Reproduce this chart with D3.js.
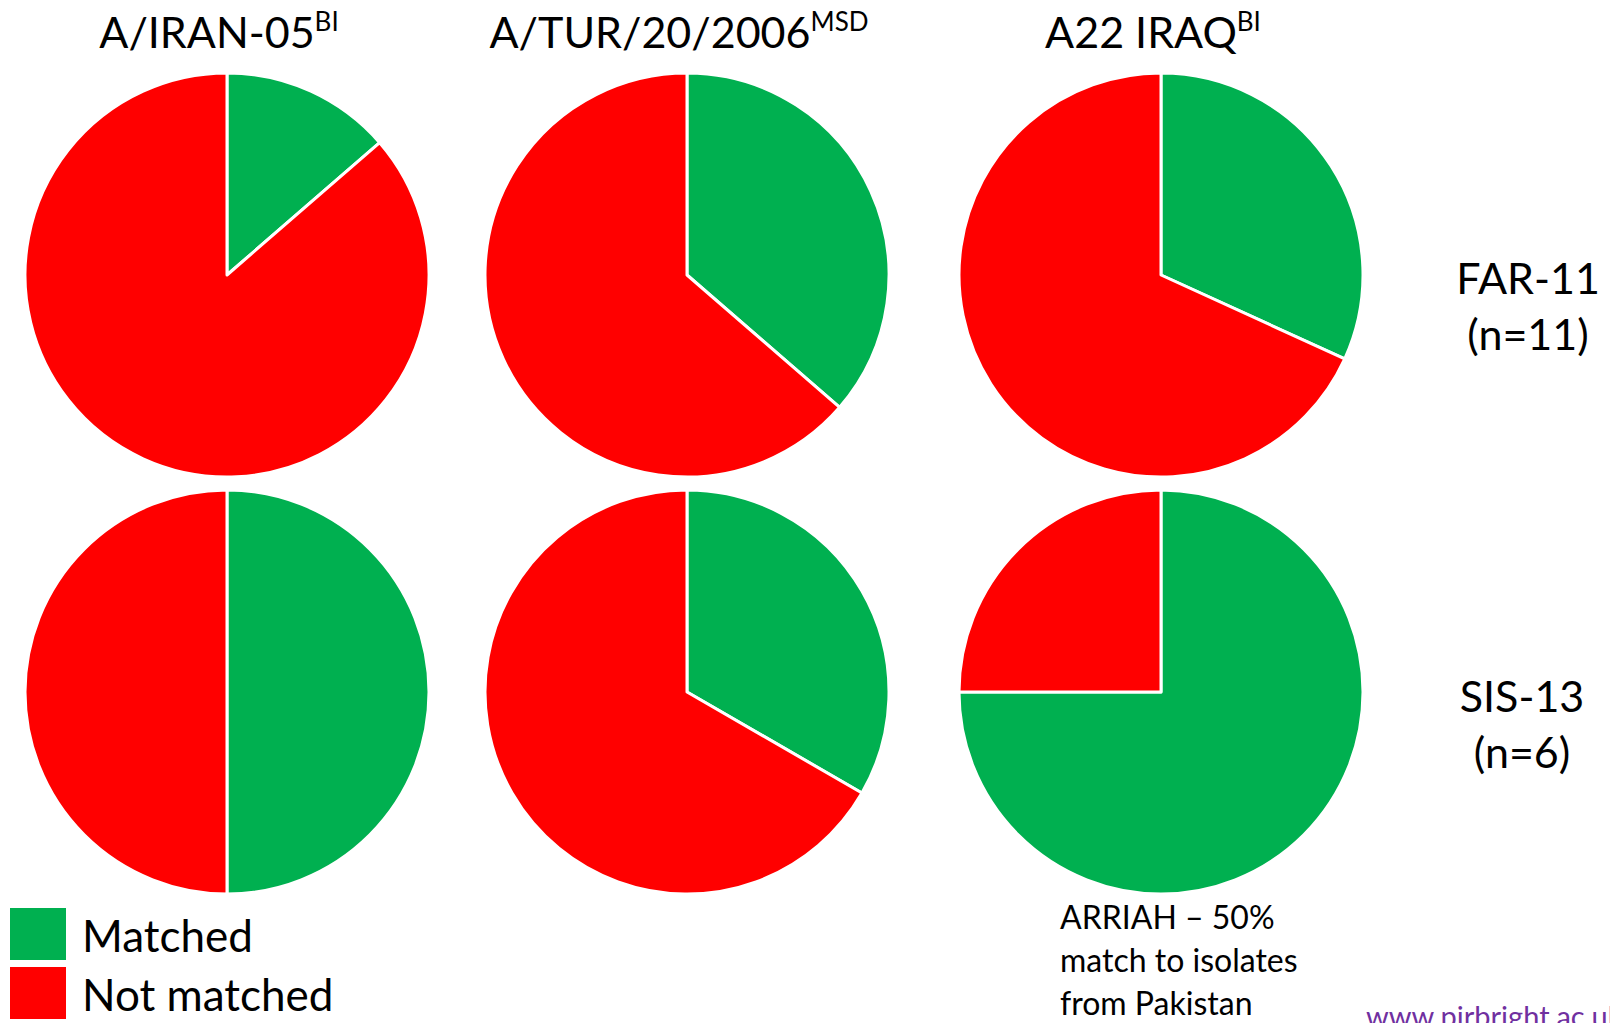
<!DOCTYPE html>
<html>
<head>
<meta charset="utf-8">
<script src="https://cdn.jsdelivr.net/npm/d3@7"></script>
<style>
  body { margin: 0; background: #fff; }
  svg { display: block; }
  text { font-family: Lato, "Open Sans", sans-serif; fill: #000; }
</style>
</head>
<body>
<div id="chart"></div>
<script>
const WIDTH = 1610;
const HEIGHT = 1023;

// data
const strains = ['A/IRAN-05', 'A/TUR/20/2006', 'A22 IRAQ'];
const strainSup = ['BI', 'MSD', 'BI'];
const groups = ['FAR-11', 'SIS-13'];
const groupN = ['(n=11)', '(n=6)'];
const categories = ['Matched', 'Not matched'];
const matched = [[1.5, 4, 3.5], [3, 2, 4.5]];
const notMatched = [[9.5, 7, 7.5], [3, 4, 1.5]];
const noteLines = ['ARRIAH \u2013 50%', 'match to isolates', 'from Pakistan'];

const GREEN = '#00B050';
const RED = '#FF0000';
const RADIUS = 202;

const color = d3.scaleOrdinal().domain(categories).range([GREEN, RED]);
const colX = d3.scaleOrdinal().domain(strains).range([227, 687, 1161]);
const rowY = d3.scaleOrdinal().domain(groups).range([275, 692]);

const svg = d3.select('#chart').append('svg')
  .attr('width', WIDTH)
  .attr('height', HEIGHT);

const pie = d3.pie().sort(null).value(d => d.value);
const arc = d3.arc().innerRadius(0).outerRadius(RADIUS);

groups.forEach((g, gi) => {
  strains.forEach((s, si) => {
    const data = [
      { cat: categories[0], value: matched[gi][si] },
      { cat: categories[1], value: notMatched[gi][si] }
    ];
    svg.append('g')
      .attr('transform', `translate(${colX(s)},${rowY(g)})`)
      .selectAll('path')
      .data(pie(data))
      .join('path')
      .attr('d', arc)
      .attr('fill', d => color(d.data.cat))
      .attr('stroke', '#fff')
      .attr('stroke-width', 3)
      .attr('stroke-linejoin', 'round');
  });
});

// column titles with superscripts
strains.forEach((s, si) => {
  const t = svg.append('text')
    .attr('x', colX(s) - 8)
    .attr('y', 48)
    .attr('text-anchor', 'middle')
    .style('font-size', '43px');
  t.append('tspan').text(s);
  t.append('tspan')
    .attr('dy', -17)
    .style('font-size', '26px')
    .text(strainSup[si]);
});

// row labels on the right
const labelX = [1528, 1522];
const labelY = [294, 712];
groups.forEach((g, gi) => {
  svg.append('text')
    .attr('x', labelX[gi]).attr('y', labelY[gi])
    .attr('text-anchor', 'middle')
    .style('font-size', '43px')
    .text(g);
  svg.append('text')
    .attr('x', labelX[gi]).attr('y', labelY[gi] + 56)
    .attr('text-anchor', 'middle')
    .style('font-size', '43px')
    .text(groupN[gi]);
});

// legend
const legend = svg.append('g').attr('transform', 'translate(10,908)');
categories.forEach((c, i) => {
  legend.append('rect')
    .attr('x', 0).attr('y', i * 59)
    .attr('width', 56).attr('height', 52)
    .attr('fill', color(c));
  legend.append('text')
    .attr('x', 72).attr('y', i * 59 + 44)
    .style('font-size', '44px')
    .text(c);
});

// note under the last pie
const note = svg.append('text')
  .attr('x', 1060).attr('y', 929)
  .style('font-size', '32px');
noteLines.forEach((l, i) => {
  note.append('tspan')
    .attr('x', 1060)
    .attr('dy', i === 0 ? 0 : 43)
    .text(l);
});

svg.append('text')
  .attr('x', 1366).attr('y', 1027)
  .style('font-size', '29px')
  .style('fill', '#7030A0')
  .text('www.pirbright.ac.uk');
</script>
</body>
</html>
